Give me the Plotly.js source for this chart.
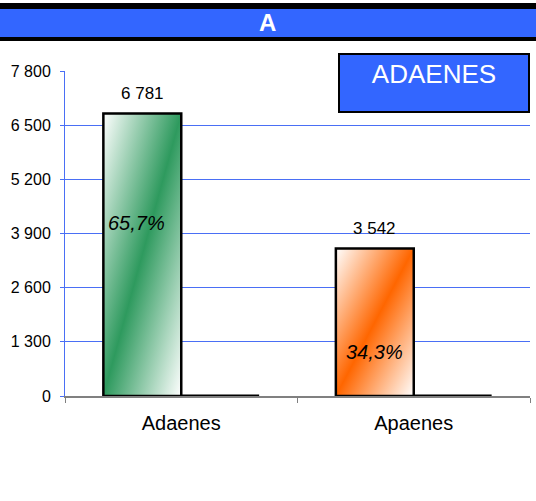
<!DOCTYPE html>
<html>
<head>
<meta charset="utf-8">
<script src="https://cdn.plot.ly/plotly-3.0.1.min.js"></script>
<style>
html,body{margin:0;padding:0;background:#fff;}
#chart{width:536px;height:501px;}
</style>
</head>
<body>
<div id="chart"></div>
<script>
var categories = ['Adaenes', 'Apaenes'];
var values = [6781, 3542];
var secondSeries = [0, 0];
var yTicks = [0, 1300, 2600, 3900, 5200, 6500, 7800];
var chartTitle = 'A';
var legendLabel = 'ADAENES';

var total = values.reduce(function(a, b){ return a + b; }, 0);
function fmtInt(v){ return String(v).replace(/\B(?=(\d{3})+(?!\d))/g, ' '); }
function fmtPct(v){ return (v / total * 100).toFixed(1).replace('.', ',') + '%'; }

var FONT = 'Liberation Sans, Arial, sans-serif';
var BLUE = '#3366ff';
var GRID = '#4a6ff5';
var L = 65, R = 6, T = 71, B = 105, W = 536, H = 501;
var plotH = H - T - B, plotW = W - L - R;
function py(pix){ return (H - B - pix) / plotH; }
function px(pix){ return (pix - L) / plotW; }

var traces = [
  {
    type: 'bar', x: categories, y: values, name: 'A',
    marker: { color: '#2f9561', line: { color: '#000', width: 2.5 } },
    cliponaxis: false, hoverinfo: 'skip'
  },
  {
    type: 'bar', x: categories, y: secondSeries, name: 'B',
    marker: { color: '#000', line: { color: '#000', width: 3 } },
    cliponaxis: false, hoverinfo: 'skip'
  }
];

var annotations = [];
// value labels above bars
values.forEach(function(v, i){
  annotations.push({
    x: categories[i], y: v, xref: 'x', yref: 'y',
    text: fmtInt(v), showarrow: false,
    xanchor: 'center', yanchor: 'middle',
    xshift: -39, yshift: 20,
    font: { family: FONT, size: 17, color: '#000' }
  });
});
// percentage labels inside bars
var pctY = [4150, 1060];
var pctShift = [-45, -39];
values.forEach(function(v, i){
  annotations.push({
    x: categories[i], y: pctY[i], xref: 'x', yref: 'y',
    text: '<i>' + fmtPct(v) + '</i>', showarrow: false,
    xanchor: 'center', yanchor: 'middle',
    xshift: pctShift[i],
    font: { family: FONT, size: 20, color: '#000' }
  });
});
// title
annotations.push({
  x: px(267), y: py(22), xref: 'paper', yref: 'paper',
  xanchor: 'center', yanchor: 'middle',
  text: '<b>' + chartTitle + '</b>', showarrow: false,
  font: { family: FONT, size: 24, color: '#fff' }
});
// legend-like box
annotations.push({
  x: 1, y: py(53), xref: 'paper', yref: 'paper',
  xanchor: 'right', yanchor: 'top',
  text: legendLabel, showarrow: false,
  width: 180, height: 48, valign: 'top', align: 'center',
  bgcolor: BLUE, bordercolor: '#000', borderwidth: 2, borderpad: 4,
  font: { family: FONT, size: 26, color: '#fff' }
});

var shapes = [
  { type: 'rect', xref: 'paper', yref: 'paper', x0: px(0), x1: px(536), y0: py(41), y1: py(3),
    fillcolor: '#000', line: { width: 0 }, layer: 'below' },
  { type: 'rect', xref: 'paper', yref: 'paper', x0: px(0), x1: px(536), y0: py(37), y1: py(9),
    fillcolor: BLUE, line: { width: 0 }, layer: 'below' }
];

var layout = {
  width: W, height: H,
  margin: { l: L, r: R, t: T, b: B, pad: 0 },
  paper_bgcolor: '#fff', plot_bgcolor: '#fff',
  showlegend: false,
  barmode: 'group', bargap: 0.33, bargroupgap: 0,
  font: { family: FONT, color: '#000' },
  xaxis: {
    type: 'category', showgrid: false, zeroline: false,
    showline: true, linecolor: '#808080', linewidth: 1.5,
    ticks: 'outside', tickson: 'boundaries', ticklen: 5, tickcolor: '#808080', tickwidth: 1,
    tickfont: { family: FONT, size: 20, color: '#000' },
    ticklabelstandoff: 8,
    layer: 'below traces',
    fixedrange: true
  },
  yaxis: {
    range: [0, 7800], tickvals: yTicks, ticktext: yTicks.map(fmtInt),
    showgrid: true, gridcolor: GRID, gridwidth: 1,
    zeroline: false,
    showline: true, linecolor: GRID, linewidth: 1,
    ticks: 'outside', ticklen: 4, tickcolor: GRID,
    tickfont: { family: FONT, size: 16, color: '#000' },
    ticklabelstandoff: 6,
    layer: 'below traces',
    fixedrange: true
  },
  annotations: annotations,
  shapes: shapes
};

var gd = document.getElementById('chart');
Plotly.newPlot(gd, traces, layout, { displayModeBar: false, staticPlot: true }).then(function(){
  var svg = gd.querySelector('svg.main-svg');
  var ns = 'http://www.w3.org/2000/svg';
  var defs = svg.querySelector('defs') || svg.insertBefore(document.createElementNS(ns, 'defs'), svg.firstChild);
  function grad(id, color){
    var g = document.createElementNS(ns, 'linearGradient');
    g.setAttribute('id', id);
    g.setAttribute('x1', '0'); g.setAttribute('y1', '0');
    g.setAttribute('x2', '1'); g.setAttribute('y2', '1');
    [['0', '#ffffff'], ['0.5', color], ['1', '#ffffff']].forEach(function(s){
      var st = document.createElementNS(ns, 'stop');
      st.setAttribute('offset', s[0]);
      st.setAttribute('stop-color', s[1]);
      g.appendChild(st);
    });
    defs.appendChild(g);
  }
  grad('gradGreen', '#2e9a5e');
  grad('gradOrange', '#ff6600');
  var tr = gd.querySelectorAll('.barlayer .trace')[0];
  if (tr) {
    var paths = tr.querySelectorAll('.point path');
    var ids = ['gradGreen', 'gradOrange'];
    paths.forEach(function(p, i){ p.style.fill = 'url(#' + ids[i] + ')'; p.style.fillOpacity = 1; });
  }
});
</script>
</body>
</html>
